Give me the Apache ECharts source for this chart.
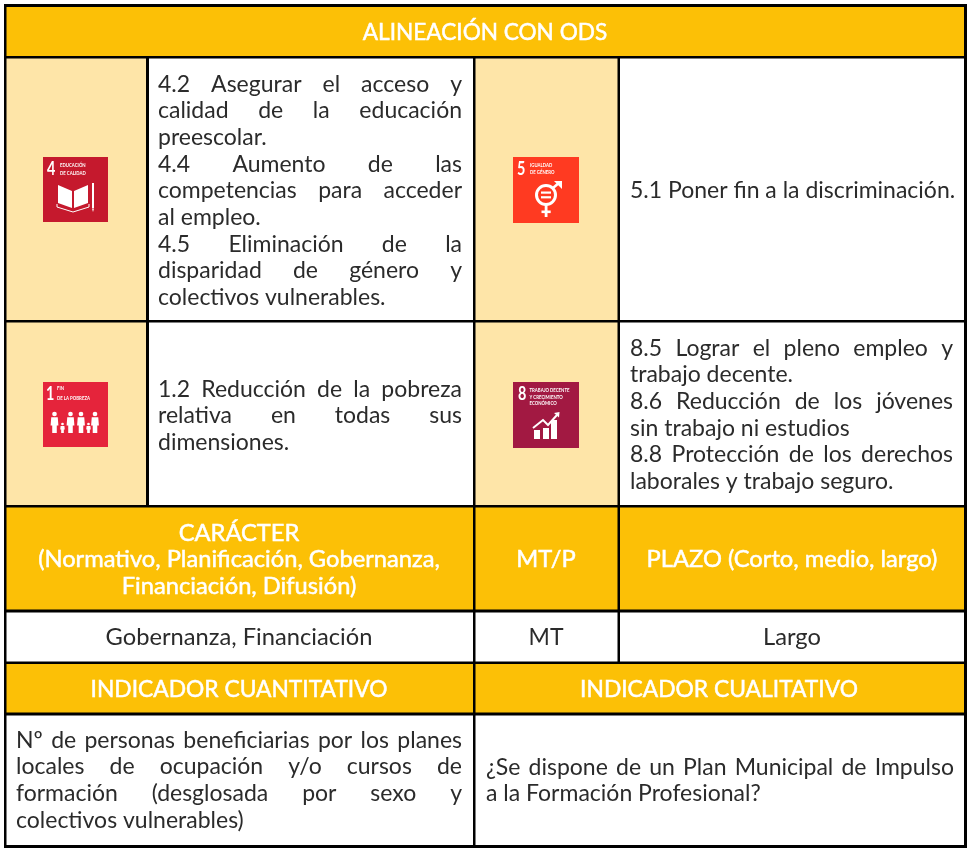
<!DOCTYPE html>
<html>
<head>
<meta charset="utf-8">
<script src="https://cdn.jsdelivr.net/npm/echarts@6/dist/echarts.min.js"></script>
<style>
html, body { margin: 0; padding: 0; background: #fff; }
#surface { width: 969px; height: 855px; }
</style>
</head>
<body>
<div id="surface"></div>
<script>
// table content
const odsTitle = ['ALINEACIÓN CON ODS']
const target4 = ['4.2 Asegurar el acceso y', 'calidad de la educación', 'preescolar.', '4.4 Aumento de las', 'competencias para acceder', 'al empleo.', '4.5 Eliminación de la', 'disparidad de género y', 'colectivos vulnerables.']
const target5 = ['5.1 Poner fin a la discriminación.']
const target1 = ['1.2 Reducción de la pobreza', 'relativa en todas sus', 'dimensiones.']
const target8 = ['8.5 Lograr el pleno empleo y', 'trabajo decente.', '8.6 Reducción de los jóvenes', 'sin trabajo ni estudios', '8.8 Protección de los derechos', 'laborales y trabajo seguro.']
const caracterHead = ['CARÁCTER', '(Normativo, Planificación, Gobernanza,', 'Financiación, Difusión)']
const mtHead = ['MT/P']
const plazoHead = ['PLAZO (Corto, medio, largo)']
const caracterValue = ['Gobernanza, Financiación']
const mtValue = ['MT']
const plazoValue = ['Largo']
const indicatorHeads = ['INDICADOR CUANTITATIVO', 'INDICADOR CUALITATIVO']
const quantIndicator = ['Nº de personas beneficiarias por los planes', 'locales de ocupación y/o cursos de', 'formación (desglosada por sexo y', 'colectivos vulnerables)']
const qualIndicator = ['¿Se dispone de un Plan Municipal de Impulso', 'a la Formación Profesional?']
const goalNumbers = ['4', '5', '1', '8']
const goalNames = [['EDUCACIÓN', 'DE CALIDAD'], ['IGUALDAD', 'DE GÉNERO'], ['FIN', 'DE LA POBREZA'], ['TRABAJO DECENTE', 'Y CRECIMIENTO', 'ECONÓMICO']]

const W = 969
const H = 855
const GOLD = '#fcc006'
const PALE = '#fee5a8'
const INK = '#2b2b2b'
const FONT = 'Lato, sans-serif'
const SIZE = 23

// x0, x1, y0, y1, fill
const fills = [
    [5, 966, 6, 57, GOLD],
    [5, 147, 57, 506, PALE],
    [474, 619, 57, 506, PALE],
    [5, 966, 506, 611, GOLD],
    [5, 966, 663, 714, GOLD]
]
// x0, x1, y0, y1
const rules = [
    [4, 967, 4, 7], [4, 967, 56, 58.5], [4, 967, 320, 322.5], [4, 967, 505, 507.5],
    [4, 967, 609.5, 612.5], [4, 967, 661.5, 664], [4, 967, 712.5, 715.5], [4, 967, 845, 848],
    [4, 6.5, 4, 848], [964, 967, 4, 848],
    [146, 149, 56, 507], [473, 475.5, 56, 848], [617.5, 620, 56, 664]
]
// x, y, size, colour of each goal icon
const icons = [
    [43, 157, 65, '#c5192d'],
    [513, 157, 66, '#ff3a21'],
    [43, 382, 65, '#e5243b'],
    [513, 382, 66, '#a21942']
]

const ruler = document.createElement('canvas').getContext('2d')
function widthOf(text, font) {
    ruler.font = font
    return ruler.measureText(text).width
}

// every word or line of text ends up here: text, x, baseline, align, colour, font size
const pieces = []
function addLeft(text, x, y) {
    pieces.push([text, x, y, 'left', INK, SIZE])
}
function addCentre(text, x, y, colour, size) {
    pieces.push([text, x, y, 'center', colour, size])
}
function addJustified(text, x0, x1, y) {
    const font = SIZE + 'px ' + FONT
    const words = text.split(' ')
    const used = words.reduce((sum, w) => sum + widthOf(w, font), 0)
    const gap = (x1 - x0 - used) / (words.length - 1)
    let x = x0
    words.forEach(w => {
        pieces.push([w, x, y, 'left', INK, SIZE])
        x += widthOf(w, font) + gap
    })
}
// justify = which lines stretch to the full column width
function addBlock(lines, x0, x1, y, justify) {
    lines.forEach((line, i) => {
        const baseline = y + i * 26.67
        if (justify[i]) addJustified(line, x0, x1, baseline)
        else addLeft(line, x0, baseline)
    })
}

addCentre(odsTitle[0], 485, 40.5, '#fff', 22.6)
addBlock(target4, 158, 462, 92, [1, 1, 0, 1, 1, 0, 1, 1, 0])
addBlock(target5, 630, 953, 198, [0])
addBlock(target1, 158, 462, 397, [1, 1, 0])
addBlock(target8, 630, 953, 356, [1, 0, 1, 0, 1, 0])
caracterHead.forEach((line, i) => addCentre(line, 239, 541 + i * 26.67, '#fff', 23.7))
addCentre(mtHead[0], 546, 567.7, '#fff', 23.7)
addCentre(plazoHead[0], 792, 567.7, '#fff', 23.7)
addCentre(caracterValue[0], 239, 645, INK, 23.7)
addCentre(mtValue[0], 546, 645, INK, 23)
addCentre(plazoValue[0], 792, 645, INK, 23.7)
addCentre(indicatorHeads[0], 239, 697.7, '#fff', 22.8)
addCentre(indicatorHeads[1], 719, 697.7, '#fff', 22.8)
addBlock(quantIndicator, 16, 462, 748, [1, 1, 1, 0])
addBlock(qualIndicator, 486, 954, 775, [1, 0])

function box(api, x0, x1, y0, y1, fill) {
    const a = api.coord([x0, y0])
    const b = api.coord([x1, y1])
    return { type: 'rect', shape: { x: a[0], y: a[1], width: b[0] - a[0], height: b[1] - a[1] }, style: { fill: fill } }
}

const white = { fill: '#fff' }
function poly(points) {
    return { type: 'polygon', shape: { points: points }, style: white }
}
function line(points, width) {
    return { type: 'polyline', shape: { points: points }, style: { fill: 'none', stroke: '#fff', lineWidth: width || 1.6 } }
}
function person(x, head, foot, w) {
    const waist = head + (foot - head) * 0.6
    return [
        { type: 'circle', shape: { cx: x, cy: head, r: w * 0.36 }, style: white },
        poly([[x - w * 0.5, head + w * 0.5], [x + w * 0.5, head + w * 0.5], [x + w * 0.6, waist], [x + w * 0.35, waist], [x + w * 0.35, foot], [x - w * 0.35, foot], [x - w * 0.35, waist], [x - w * 0.6, waist]])
    ]
}
// glyphs are in the icon's own 65 unit square
const glyphs = [
    function () {
        return [
            poly([[15, 28], [29, 34], [29, 51], [15, 46]]),
            poly([[31, 34], [45, 28], [45, 46], [31, 51]]),
            line([[14, 47], [14, 50], [30, 55], [46, 50], [46, 47]], 1),
            { type: 'rect', shape: { x: 49, y: 26, width: 2, height: 25 }, style: white },
            poly([[49, 51.5], [51, 51.5], [50, 55]])
        ]
    },
    function () {
        return [
            { type: 'circle', shape: { cx: 33, cy: 38, r: 9.5 }, style: { fill: 'none', stroke: '#fff', lineWidth: 3 } },
            { type: 'rect', shape: { x: 28, y: 34.5, width: 10, height: 2.2 }, style: white },
            { type: 'rect', shape: { x: 28, y: 39.2, width: 10, height: 2.2 }, style: white },
            line([[40, 31], [47, 25]], 2.6),
            poly([[41, 24], [49, 24], [49, 32]]),
            { type: 'rect', shape: { x: 31.7, y: 48, width: 2.8, height: 12 }, style: white },
            { type: 'rect', shape: { x: 28.5, y: 53.5, width: 9.2, height: 2.6 }, style: white }
        ]
    },
    function () {
        return [].concat(
            person(11.5, 32, 51, 6.5), person(27.5, 32, 51, 6.5), person(38, 32, 51, 6.5), person(52, 32, 51, 6.5),
            person(19.5, 42, 51, 3.8), person(45.5, 42, 51, 3.8)
        )
    },
    function () {
        return [
            { type: 'rect', shape: { x: 21, y: 48, width: 6, height: 9 }, style: white },
            { type: 'rect', shape: { x: 30, y: 46, width: 6, height: 11 }, style: white },
            { type: 'rect', shape: { x: 38, y: 38, width: 6, height: 19 }, style: white },
            line([[20, 46], [30, 38], [35, 43], [44, 33]], 2),
            poly([[41, 31], [46.5, 30], [46, 35.5]])
        ]
    }
]
// number x, name x, first name baseline, line step, number baseline
const iconText = [
    [4, 17, 10, 8, 18],
    [4, 17, 10, 7.5, 18],
    [3, 14, 8, 10, 18],
    [5, 16.5, 10, 6.7, 18]
]
// zrender has no alphabetic anchor on text, so place the middle of the line
function textAt(text, x, baseline, size, weight, stretch, colour, align, heavier) {
    const style = { text: text, x: 0, y: 0, fill: colour, font: weight + ' ' + size + 'px ' + FONT, align: align, verticalAlign: 'middle' }
    if (heavier) {
        style.stroke = colour
        style.lineWidth = 0.5
    }
    return { type: 'text', x: x, y: baseline - size * 0.34, scaleX: stretch, style: style }
}

const option = {
    animation: false,
    grid: { left: 0, right: 0, top: 0, bottom: 0 },
    xAxis: { type: 'value', min: 0, max: W, show: false },
    yAxis: { type: 'value', min: 0, max: H, inverse: true, show: false },
    series: [
        {
            type: 'custom',
            silent: true,
            data: fills.map((f, i) => i),
            renderItem: (params, api) => {
                const f = fills[params.dataIndex]
                return box(api, f[0], f[1], f[2], f[3], f[4])
            }
        },
        {
            type: 'custom',
            silent: true,
            data: rules.map((r, i) => i),
            renderItem: (params, api) => {
                const r = rules[params.dataIndex]
                return box(api, r[0], r[1], r[2], r[3], '#000')
            }
        },
        {
            type: 'custom',
            silent: true,
            data: icons.map((c, i) => i),
            renderItem: (params, api) => {
                const i = params.dataIndex
                const c = icons[i]
                const t = iconText[i]
                const at = api.coord([c[0], c[1]])
                const children = [{ type: 'rect', shape: { x: 0, y: 0, width: c[2], height: c[2] }, style: { fill: c[3] } }]
                children.push(textAt(goalNumbers[i], t[0], t[4], 18, 'bold', 0.8, '#fff', 'left'))
                goalNames[i].forEach((name, j) => {
                    children.push(textAt(name, t[1], t[2] + j * t[3], 6, 'bold', 0.72, '#fff', 'left'))
                })
                return { type: 'group', x: at[0], y: at[1], children: children.concat(glyphs[i]()) }
            }
        },
        {
            type: 'custom',
            silent: true,
            data: pieces.map((p, i) => i),
            renderItem: (params, api) => {
                const p = pieces[params.dataIndex]
                const at = api.coord([p[1], p[2]])
                return textAt(p[0], at[0], at[1], p[5], 'normal', 1, p[4], p[3], p[4] === '#fff')
            }
        }
    ]
}

const myChart = echarts.init(document.getElementById('surface'))
myChart.setOption(option)
</script>
</body>
</html>
